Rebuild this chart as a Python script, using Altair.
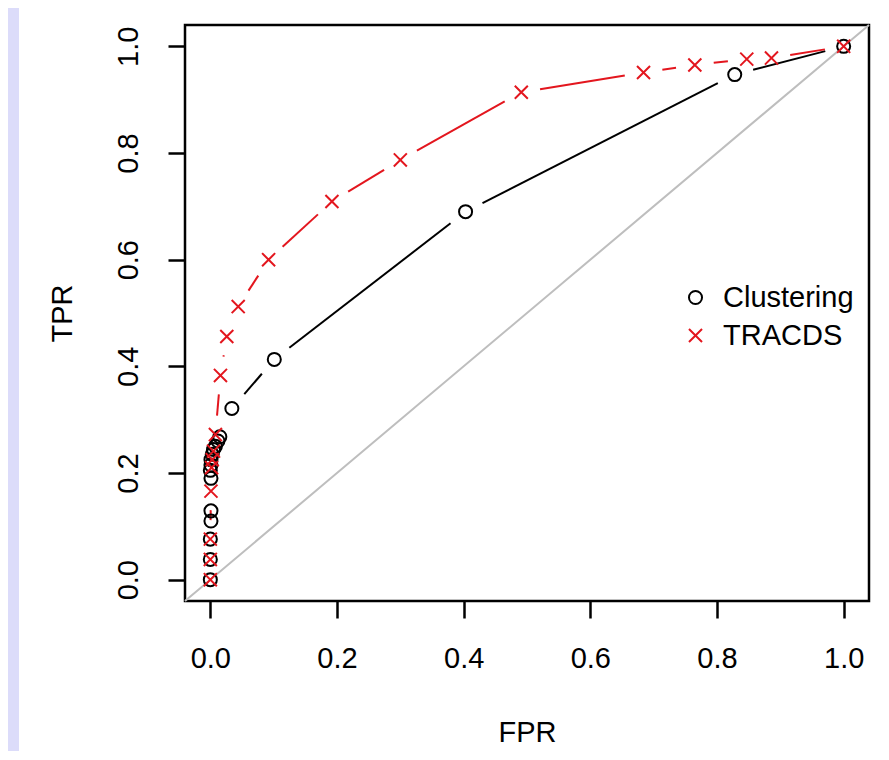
import altair as alt
import pandas as pd
import numpy as np

# ---- data ----
series_names = ["Clustering", "TRACDS"]
series_colors = ["#000000", "#e3161e"]
series_shapes = ["circle", "M-1,-1L1,1M1,-1L-1,1"]

clust_fpr = [0.0, 0.0, 0.0, 0.001, 0.001, 0.001, 0.0, 0.001, 0.001, 0.003,
             0.005, 0.008, 0.012, 0.015, 0.034, 0.101, 0.403, 0.828, 1.0]
clust_tpr = [0.0, 0.038, 0.076, 0.110, 0.129, 0.190, 0.205, 0.215, 0.225, 0.235,
             0.244, 0.250, 0.260, 0.268, 0.321, 0.413, 0.690, 0.947, 1.0]

tracds_fpr = [0.0, 0.0, 0.0, 0.001, 0.002, 0.003, 0.005, 0.008, 0.016, 0.026,
              0.044, 0.092, 0.192, 0.30, 0.491, 0.684, 0.765, 0.847, 0.886, 1.0]
tracds_tpr = [0.0, 0.038, 0.076, 0.166, 0.21, 0.225, 0.241, 0.272, 0.383, 0.456,
              0.512, 0.60, 0.709, 0.787, 0.914, 0.951, 0.965, 0.976, 0.978, 1.0]

axis_ticks = [0.0, 0.2, 0.4, 0.6, 0.8, 1.0]
axis_domain = [-0.04, 1.04]
diag_vals = [-0.04, 1.04]

# ---- layout ----
W, H = 684, 576
GAP = 19  # pixel gap around points (R type="b")
FONT = "Liberation Sans"
FS = 29
TICK = 17

sx = W / (axis_domain[1] - axis_domain[0])
sy = H / (axis_domain[1] - axis_domain[0])


def gapped_segments(fpr, tpr, name):
    rows = []
    for i in range(len(fpr) - 1):
        dx = fpr[i + 1] - fpr[i]
        dy = tpr[i + 1] - tpr[i]
        L = np.hypot(dx * sx, dy * sy)
        if L <= 2 * GAP:
            continue
        f = GAP / L
        rows.append(dict(series=name,
                         fpr=fpr[i] + f * dx, tpr=tpr[i] + f * dy,
                         fpr2=fpr[i + 1] - f * dx, tpr2=tpr[i + 1] - f * dy))
    return rows


seg_df = pd.DataFrame(gapped_segments(clust_fpr, clust_tpr, series_names[0]) +
                      gapped_segments(tracds_fpr, tracds_tpr, series_names[1]))
pts_df = pd.concat([
    pd.DataFrame({"series": series_names[0], "fpr": clust_fpr, "tpr": clust_tpr}),
    pd.DataFrame({"series": series_names[1], "fpr": tracds_fpr, "tpr": tracds_tpr}),
])
diag_df = pd.DataFrame({"fpr": diag_vals, "tpr": diag_vals})

x_axis = alt.Axis(values=axis_ticks, format=".1f", title="FPR", domain=False, grid=False,
                  tickSize=TICK, tickWidth=2.5, tickColor="black",
                  labelFont=FONT, labelFontSize=FS, labelColor="black",
                  labelBaseline="middle", labelPadding=40, labelFlush=False, labelOverlap=False,
                  titleFont=FONT, titleFontSize=FS, titleFontWeight="normal", titleColor="black",
                  titleBaseline="middle", titleY=131, titleX=W / 2)
y_axis = alt.Axis(values=axis_ticks, format=".1f", title="TPR", domain=False, grid=False,
                  tickSize=TICK, tickWidth=2.5, tickColor="black",
                  labelFont=FONT, labelFontSize=FS, labelColor="black",
                  labelAngle=270, labelAlign="center", labelBaseline="middle", labelPadding=40,
                  labelFlush=False, labelOverlap=False,
                  titleFont=FONT, titleFontSize=FS, titleFontWeight="normal", titleColor="black",
                  titleAngle=270, titleAlign="center", titleBaseline="middle",
                  titleX=-123, titleY=H / 2)

xs = alt.Scale(domain=axis_domain, nice=False, zero=False)
ys = alt.Scale(domain=axis_domain, nice=False, zero=False)
X = alt.X("fpr:Q", scale=xs, axis=x_axis)
Y = alt.Y("tpr:Q", scale=ys, axis=y_axis)

legend = alt.Legend(title=None, orient="none", legendX=496, legendY=258, padding=0,
                    labelFont=FONT, labelFontSize=FS, labelColor="black",
                    symbolSize=170, symbolStrokeWidth=2, labelOffset=13, rowPadding=8)
color_scale = alt.Scale(domain=series_names, range=series_colors)
shape_scale = alt.Scale(domain=series_names, range=series_shapes)

strip = alt.Chart(pd.DataFrame({"k": [0]})).mark_rect(color="#dcdcfa").encode(
    x=alt.value(-180), x2=alt.value(-166), y=alt.value(-40), y2=alt.value(H + 200))

diag = alt.Chart(diag_df).mark_line(color="#bebebe", strokeWidth=2).encode(x=X, y=Y)

segs = alt.Chart(seg_df).mark_rule(strokeWidth=2).encode(
    x=X, y=Y, x2="fpr2:Q", y2="tpr2:Q",
    color=alt.Color("series:N", scale=color_scale, legend=legend))

pts = alt.Chart(pts_df).mark_point(filled=False, size=170, strokeWidth=2, opacity=1).encode(
    x=X, y=Y,
    color=alt.Color("series:N", scale=color_scale, legend=legend),
    shape=alt.Shape("series:N", scale=shape_scale, legend=legend))

chart = alt.layer(strip, diag, segs, pts).properties(
    width=W, height=H, background="white",
    padding={"left": 177, "top": 17, "right": 10, "bottom": 150},
    autosize=alt.AutoSizeParams(type="none"),
).configure_view(stroke="black", strokeWidth=2.5)

chart.save("out.html", embed_options={"renderer": "svg", "actions": False})
